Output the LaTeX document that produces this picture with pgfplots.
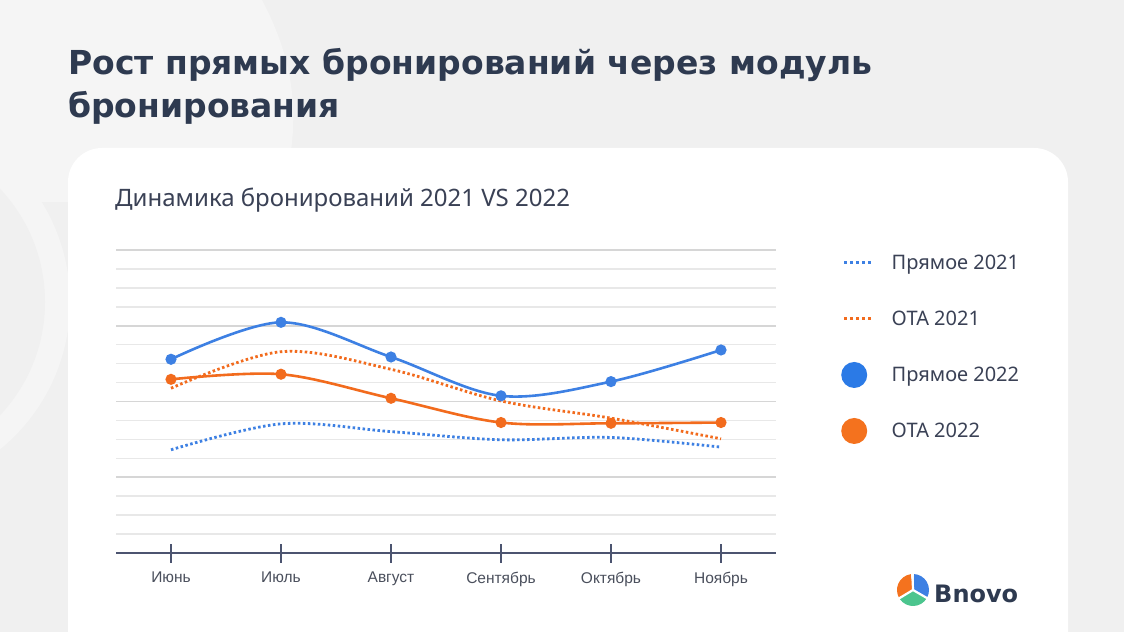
\documentclass[border=0pt]{standalone}
\usepackage{pgfplots}
\pgfplotsset{compat=1.18}
\usepackage{fontspec}
\setmainfont{Noto Sans}
\newfontfamily\titlefont{DejaVu Sans}[BoldFont={DejaVu Sans Bold}]
\newfontfamily\tickfont{Liberation Sans}
\definecolor{bgcol}{HTML}{F0F0F0}
\definecolor{bglight}{HTML}{F5F5F5}
\definecolor{titlecol}{HTML}{2E3A50}
\definecolor{subcol}{HTML}{3A4155}
\definecolor{tickcol}{HTML}{4A4F5C}
\definecolor{axcol}{HTML}{4C5470}
\definecolor{gridl}{HTML}{E8E8E8}
\definecolor{gridd}{HTML}{D6D6D6}
\definecolor{cblue}{HTML}{3D80E3}
\definecolor{corange}{HTML}{F26B1D}
\definecolor{lgblue}{HTML}{2B7AE6}
\definecolor{lgorange}{HTML}{F4721E}
\definecolor{lgreen}{HTML}{4CC58E}

\pgfplotstableread{
x p22 o22 p21 o21
0 10.23 9.17 5.45 8.70
1 12.18 9.44 6.82 10.63
2 10.35 8.17 6.41 9.70
3 8.30 6.89 5.98 8.03
4 9.05 6.85 6.10 7.12
5 10.72 6.89 5.59 6.03
}\datatable

\begin{document}
\begin{tikzpicture}[x=1pt,y=1pt]
\useasboundingbox (0,0) rectangle (1124,632);
\begin{scope}
\clip (0,0) rectangle (1124,632);
\fill[bgcol] (0,0) rectangle (1124,632);
% light decorative shape
\fill[bglight] (0,632) -- (262,632) .. controls (300,560) and (300,500) .. (280,430) -- (0,430) -- cycle;
\fill[bglight] (-120,330) circle (190);
\fill[bgcol] (-120,330) circle (165);
\fill[white, rounded corners=34pt] (68,-60) rectangle (1068,484);
\end{scope}

% title
\node[anchor=base west, inner sep=0pt, text=titlecol, font=\titlefont\bfseries\fontsize{33}{40}\selectfont] at (68,557.4) {Рост прямых бронирований через модуль};
\node[anchor=base west, inner sep=0pt, text=titlecol, font=\titlefont\bfseries\fontsize{33}{40}\selectfont] at (68,514.3) {бронирования};
% subtitle
\node[anchor=base west, inner sep=0pt, text=subcol, font=\fontsize{24}{28}\selectfont] at (115,425) {Динамика бронирований 2021 VS 2022};

\begin{axis}[
  at={(116pt,79pt)}, anchor=south west,
  scale only axis, width=660pt, height=303pt,
  xmin=-0.5, xmax=5.5, ymin=0, ymax=16,
  clip=false,
  axis x line*=bottom, axis y line*=left,
  y axis line style={draw=none},
  x axis line style={axcol, line width=1.5pt},
  xtick={0,...,5},
  xticklabels={Июнь,Июль,Август,Сентябрь,Октябрь,Ноябрь},
  xtick align=center, major tick length=19pt,
  x tick style={axcol, line width=1.3pt},
  xticklabel style={font=\tickfont\fontsize{15.5}{18}\selectfont, text=tickcol, yshift=-6pt},
  ytick={1,2,3,5,6,7,9,10,11,13,14,15},
  yticklabels={},
  y tick style={draw=none},
  ymajorgrids,
  grid style={gridl, line width=1.5pt},
  extra y ticks={4,8,12,16},
  extra y tick labels={},
  extra y tick style={grid style={gridd, line width=1.6pt}, tick style={draw=none}},
  legend style={at={(1.094,1.0074)}, anchor=north west, draw=none, fill=none,
    font=\fontsize{20}{24}\selectfont, text=subcol,
    row sep=30pt, column sep=17pt, nodes={inner sep=2pt}},
  legend cell align=left,
]
\addplot[cblue, line width=2.8pt, dash pattern=on 2.5pt off 2.5pt, smooth, tension=0.55,
  legend image code/.code={\path[draw=none,fill=none] (-3pt,-13pt) rectangle (27pt,13pt);
    \draw[cblue, line width=3pt, dash pattern=on 3pt off 3pt] (0pt,0pt) -- (27pt,0pt);}]
  table[x=x,y=p21] {\datatable};
\addlegendentry{Прямое 2021}
\addplot[corange, line width=2.8pt, dash pattern=on 2.5pt off 2.5pt, smooth, tension=0.55,
  legend image code/.code={\path[draw=none,fill=none] (-3pt,-13pt) rectangle (27pt,13pt);
    \draw[corange, line width=3pt, dash pattern=on 3pt off 3pt] (0pt,0pt) -- (27pt,0pt);}]
  table[x=x,y=o21] {\datatable};
\addlegendentry{ОТА 2021}
\addplot[cblue, line width=2.6pt, smooth, tension=0.55, mark=*, mark size=4.2pt,
  mark options={solid, fill=cblue, draw=cblue},
  legend image code/.code={\path[draw=none,fill=none] (-3pt,-13pt) rectangle (27pt,13pt);
    \fill[lgblue, draw=none] (10pt,0pt) circle (13pt);}]
  table[x=x,y=p22] {\datatable};
\addlegendentry{Прямое 2022}
\addplot[corange, line width=2.6pt, smooth, tension=0.55, mark=*, mark size=4.2pt,
  mark options={solid, fill=corange, draw=corange},
  legend image code/.code={\path[draw=none,fill=none] (-3pt,-13pt) rectangle (27pt,13pt);
    \fill[lgorange, draw=none] (10pt,0pt) circle (13pt);}]
  table[x=x,y=o22] {\datatable};
\addlegendentry{ОТА 2022}
\end{axis}

% Bnovo logo
\begin{scope}[shift={(913,42)}]
\fill[lgorange] (0,0) -- (98:16) arc (98:208:16) -- cycle;
\fill[cblue] (0,0) -- (-28:16) arc (-28:86:16) -- cycle;
\fill[lgreen] (0,0) -- (214:16) arc (214:328:16) -- cycle;
\draw[white, line width=2.2pt] (0,0) -- (92:17) (0,0) -- (211:17) (0,0) -- (-30:17);
\end{scope}
\node[anchor=base west, inner sep=0pt, text=titlecol, font=\titlefont\bfseries\fontsize{24}{28}\selectfont] at (934,30) {Bnovo};
\end{tikzpicture}
\end{document}
